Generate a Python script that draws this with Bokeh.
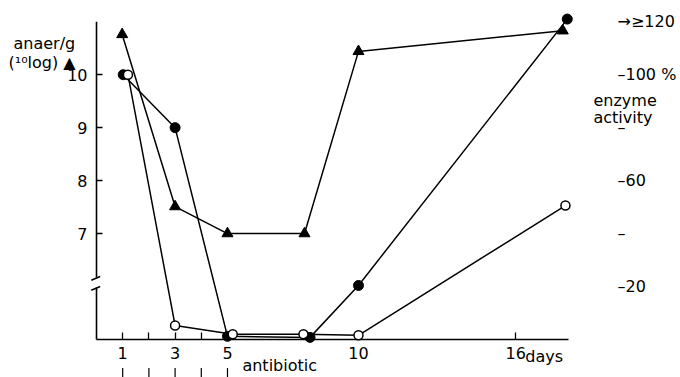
from bokeh.plotting import figure
from bokeh.models import Range1d, LinearAxis, FixedTicker
from bokeh.core.properties import value
from bokeh.embed import file_html
from bokeh.resources import INLINE

# anaerobes per g (10log) - triangles, left axis
anaer_days = [0.98, 3.0, 5.0, 7.94, 10.0, 17.8]
anaer_log = [10.76, 7.51, 7.0, 7.0, 10.44, 10.83]

# enzyme activity (%) - filled circles, right axis
filled_days = [1.02, 3.0, 5.0, 8.15, 10.0, 17.97]
filled_pct = [100, 80, 1.2, 0.8, 20.4, 121]

# enzyme activity (%) - open circles, right axis
open_days = [1.2, 3.0, 5.2, 7.9, 10.0, 17.9]
open_pct = [100, 5.3, 2.0, 2.0, 1.6, 50.6]

day_ticks = [1, 2, 3, 4, 5, 10, 16]
day_labels = ["1", "", "3", "", "5", "10", "16"]
log_ticks = [7, 8, 9, 10]
pct_ticks = [20, 40, 60, 80, 100, 120]
pct_labels = ["–20", "–", "–60", "–", "–100 %", "→≥120"]
antibiotic_days = [1, 2, 3, 4, 5]

FONT = "DejaVu Sans"
FS = "16px"

p = figure(width=680, height=377, x_range=Range1d(0, 18.17), y_range=Range1d(5, 11.25),
           output_backend="svg", toolbar_location=None,
           min_border_left=96, min_border_right=108, min_border_top=8, min_border_bottom=38)
p.outline_line_color = None
p.grid.visible = False
p.background_fill_color = "white"

p.extra_y_ranges = {"pct": Range1d(0, 125)}

xa = p.xaxis[0]
xa.ticker = FixedTicker(ticks=day_ticks)
xa.major_label_overrides = {t: l for t, l in zip(day_ticks, day_labels)}
xa.bounds = (0, 18)
xa.axis_line_width = 1.6
xa.axis_line_color = "black"
xa.major_tick_in = 7
xa.major_tick_out = 0
xa.major_tick_line_width = 1.3
xa.minor_tick_line_color = None
xa.major_label_standoff = 7
xa.major_label_text_font = FONT
xa.major_label_text_font_size = FS
xa.major_label_text_color = "black"

ya = p.yaxis[0]
ya.ticker = FixedTicker(ticks=log_ticks)
ya.axis_line_color = None
ya.major_tick_in = 6
ya.major_tick_out = 0
ya.major_tick_line_width = 1.3
ya.minor_tick_line_color = None
ya.major_label_standoff = 9
ya.major_label_text_font = FONT
ya.major_label_text_font_size = FS
ya.major_label_text_color = "black"

ra = LinearAxis(y_range_name="pct", ticker=FixedTicker(ticks=pct_ticks),
                major_label_overrides={t: l for t, l in zip(pct_ticks, pct_labels)})
ra.axis_line_color = None
ra.major_tick_line_color = None
ra.major_tick_in = 0
ra.major_tick_out = 0
ra.minor_tick_line_color = None
ra.major_label_standoff = 45
ra.major_label_text_font = FONT
ra.major_label_text_font_size = FS
ra.major_label_text_color = "black"
p.add_layout(ra, "right")

# left axis line with a break
p.segment(x0=[0, 0], y0=[5, 6.17], x1=[0, 0], y1=[5.98, 11.0],
          line_width=1.6, line_color="black", level="overlay")
p.segment(x0=[-0.2, -0.2], y0=[5.93, 6.12], x1=[0.14, 0.14], y1=[6.0, 6.19],
          line_width=1.5, line_color="black", level="overlay")

# series lines
p.line(anaer_days, anaer_log, line_color="black", line_width=1.5)
p.line(filled_days, filled_pct, y_range_name="pct", line_color="black", line_width=1.5)
p.line(open_days, open_pct, y_range_name="pct", line_color="black", line_width=1.5)

# markers
p.scatter(anaer_days, anaer_log, marker="triangle", size=11, fill_color="black",
          line_color="black", level="overlay")
p.scatter(filled_days, filled_pct, y_range_name="pct", marker="circle", size=10,
          fill_color="black", line_color="black", level="overlay")
p.scatter(open_days, open_pct, y_range_name="pct", marker="circle", size=9,
          fill_color="white", line_color="black", line_width=1.5, level="overlay")

# antibiotic arrows
n = len(antibiotic_days)
p.segment(x0=antibiotic_days, y0=[4.46] * n, x1=antibiotic_days,
          y1=[4.29] * n, line_width=1.2, line_color="black", level="overlay")
p.scatter(antibiotic_days, [4.47] * n, marker="triangle", size=7,
          fill_color="black", line_color="black", level="overlay")

# free texts
txt_x = [5.57, 16.37, -3.17, -3.36, 18.97, 18.97]
txt_y = [4.51, 4.67, 10.59, 10.23, 9.51, 9.19]
txt = ["antibiotic", "days", "anaer/g", "(¹⁰log) ▲", "enzyme", "activity"]
p.text(x=txt_x, y=txt_y, text=txt, text_font=value(FONT), text_font_size=value(FS),
       text_color="black", text_align="left", text_baseline="alphabetic", level="overlay")

open("out.html", "w").write(file_html(p, INLINE))
